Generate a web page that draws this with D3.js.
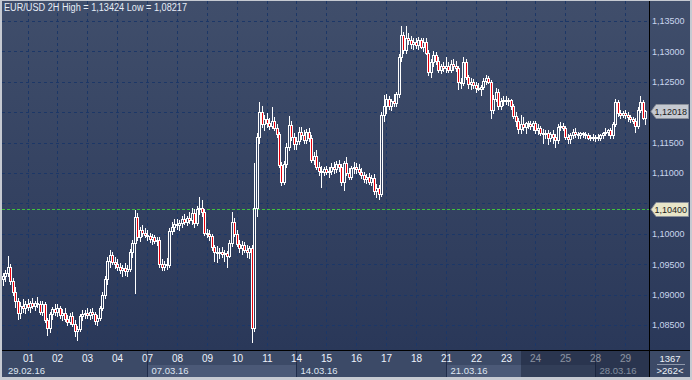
<!DOCTYPE html>
<html>
<head>
<meta charset="utf-8">
<script src="https://cdn.jsdelivr.net/npm/d3@7"></script>
<style>
  body { margin: 0; background: #c6cad2; }
  svg { display: block; font-family: "Liberation Sans", Arial, sans-serif; }
</style>
</head>
<body>
<div id="chart"></div>
<script>
// EUR/USD 2H candles, one line per trading day (29.02 .. 29.03.16)
var days = ["29","01","02","03","04","07","08","09","10","11","14","15","16","17","18","21","22","23","24","25","28","29"];
var barsPerDay = [10,12,12,12,12,12,12,12,12,12,12,12,12,12,12,12,12,12,12,12,12,9];
var weekLabels = ["29.02.16","07.03.16","14.03.16","21.03.16","28.03.16"];
var weekFirstDay = [0,5,10,15,20];

var open = [
  1.0925,1.0930,1.0935,1.0945,1.0922,1.0905,1.0890,1.0870,1.0882,1.0878,
  1.0885,1.0880,1.0886,1.0882,1.0887,1.0884,1.0872,1.0885,1.0858,1.0845,1.0868,1.0876,
  1.0872,1.0878,1.0866,1.0870,1.0860,1.0855,1.0864,1.0852,1.0840,1.0844,1.0864,1.0868,
  1.0870,1.0866,1.0872,1.0868,1.0856,1.0862,1.0878,1.0900,1.0925,1.0955,1.0965,1.0954,
  1.0950,1.0945,1.0940,1.0944,1.0938,1.0942,1.0970,1.0985,1.1028,1.0995,1.1006,1.1002,
  1.0998,1.0996,1.0992,1.0994,1.0988,1.0990,1.0950,1.0946,1.0950,1.0948,1.1005,1.1012,
  1.1016,1.1014,1.1018,1.1024,1.1020,1.1026,1.1022,1.1034,1.1018,1.1040,1.1042,1.1036,
  1.1002,1.1000,1.0996,1.0978,1.0970,1.0968,1.0970,1.0966,1.0968,1.0964,1.0985,1.1019,
  1.0999,1.0984,1.0976,1.0982,1.0974,1.0970,1.0976,1.0845,1.1042,1.1159,1.1200,1.1180,
  1.1188,1.1182,1.1178,1.1186,1.1174,1.1164,1.1113,1.1085,1.1115,1.1143,1.1179,1.1159,
  1.1148,1.1152,1.1168,1.1162,1.1155,1.1168,1.1158,1.1122,1.1128,1.1110,1.1104,1.1102,
  1.1106,1.1102,1.1104,1.1110,1.1106,1.1114,1.1110,1.1085,1.1116,1.1100,1.1094,1.1108,
  1.1110,1.1106,1.1102,1.1096,1.1090,1.1094,1.1086,1.1092,1.1070,1.1076,1.1066,1.1196,
  1.1210,1.1222,1.1210,1.1218,1.1215,1.1230,1.1291,1.1327,1.1302,1.1322,1.1318,1.1312,
  1.1316,1.1310,1.1318,1.1308,1.1316,1.1298,1.1266,1.1282,1.1294,1.1285,1.1270,1.1276,
  1.1272,1.1276,1.1270,1.1280,1.1276,1.1272,1.1250,1.1248,1.1283,1.1258,1.1246,1.1250,
  1.1244,1.1240,1.1238,1.1242,1.1252,1.1256,1.1250,1.1204,1.1222,1.1234,1.1210,1.1218,
  1.1220,1.1218,1.1220,1.1210,1.1194,1.1186,1.1172,1.1180,1.1176,1.1182,1.1180,1.1178,
  1.1182,1.1170,1.1174,1.1166,1.1164,1.1166,1.1158,1.1164,1.1160,1.1154,1.1176,1.1178,
  1.1174,1.1160,1.1156,1.1162,1.1168,1.1164,1.1163,1.1165,1.1164,1.1162,1.1158,1.1160,
  1.1158,1.1160,1.1158,1.1162,1.1166,1.1168,1.1170,1.1162,1.1180,1.1216,1.1198,1.1196,
  1.1199,1.1196,1.1192,1.1188,1.1186,1.1178,1.1204,1.1216,1.1190
];
var high = [
  1.0935,1.0940,1.0964,1.0950,1.0928,1.0912,1.0895,1.0888,1.0892,1.0890,
  1.0892,1.0890,1.0895,1.0890,1.0896,1.0890,1.0890,1.0888,1.0862,1.0872,1.0880,1.0884,
  1.0885,1.0882,1.0876,1.0878,1.0866,1.0870,1.0872,1.0858,1.0848,1.0868,1.0874,1.0875,
  1.0878,1.0876,1.0878,1.0872,1.0866,1.0882,1.0905,1.0930,1.0962,1.0973,1.0970,1.0962,
  1.0958,1.0952,1.0948,1.0952,1.0948,1.0975,1.0990,1.1039,1.1035,1.1012,1.1014,1.1010,
  1.1006,1.1002,1.1000,1.0998,1.0995,1.0994,1.0958,1.0955,1.0960,1.1010,1.1020,1.1024,
  1.1024,1.1022,1.1030,1.1032,1.1030,1.1036,1.1042,1.1040,1.1045,1.1060,1.1056,1.1040,
  1.1008,1.1006,1.1000,1.0982,1.0980,1.0976,1.0978,1.0974,1.0972,1.0990,1.1036,1.1026,
  1.1006,1.0990,1.0988,1.0986,1.0982,1.0980,1.0982,1.1116,1.1165,1.1217,1.1210,1.1195,
  1.1198,1.1190,1.1209,1.1192,1.1180,1.1168,1.1118,1.1120,1.1150,1.1194,1.1186,1.1165,
  1.1160,1.1176,1.1175,1.1170,1.1172,1.1174,1.1162,1.1135,1.1138,1.1118,1.1112,1.1110,
  1.1112,1.1110,1.1116,1.1118,1.1120,1.1122,1.1115,1.1120,1.1126,1.1108,1.1112,1.1118,
  1.1116,1.1114,1.1108,1.1102,1.1098,1.1100,1.1096,1.1098,1.1082,1.1080,1.1200,1.1228,
  1.1230,1.1226,1.1222,1.1230,1.1234,1.1295,1.1342,1.1332,1.13424,1.1330,1.1325,1.1322,
  1.1322,1.1324,1.1322,1.1322,1.1322,1.1302,1.1288,1.1300,1.1299,1.1290,1.1280,1.1282,
  1.1290,1.1282,1.1286,1.1288,1.1284,1.1276,1.1256,1.1290,1.1288,1.1262,1.1256,1.1254,
  1.1250,1.1248,1.1244,1.1256,1.1261,1.1259,1.1253,1.1228,1.1240,1.1238,1.1224,1.1226,
  1.1226,1.1224,1.1222,1.1214,1.1200,1.1190,1.1195,1.1192,1.1184,1.1186,1.1186,1.1185,
  1.1186,1.1180,1.1178,1.1172,1.1170,1.1170,1.1168,1.1170,1.1164,1.1180,1.1184,1.1182,
  1.1178,1.1164,1.1166,1.1172,1.1174,1.1168,1.1168,1.1168,1.1167,1.1166,1.1162,1.1164,
  1.1162,1.1164,1.1164,1.1168,1.1174,1.1172,1.1174,1.1184,1.1222,1.1220,1.1204,1.1202,
  1.1204,1.1200,1.1196,1.1192,1.1190,1.1208,1.1227,1.1220,1.1204
];
var low = [
  1.0915,1.0922,1.0930,1.0918,1.0900,1.0880,1.0860,1.0862,1.0872,1.0870,
  1.0874,1.0872,1.0878,1.0875,1.0880,1.0868,1.0866,1.0855,1.0834,1.0838,1.0860,1.0866,
  1.0865,1.0862,1.0858,1.0856,1.0850,1.0852,1.0848,1.0832,1.0826,1.0840,1.0858,1.0862,
  1.0862,1.0860,1.0862,1.0852,1.0850,1.0858,1.0874,1.0895,1.0918,1.0946,1.0950,1.0944,
  1.0940,1.0936,1.0930,1.0932,1.0930,1.0938,1.0962,1.0902,1.0990,1.0988,1.0996,1.0994,
  1.0990,1.0986,1.0984,1.0985,1.0982,1.0945,1.0940,1.0940,1.0942,1.0945,1.1000,1.1004,
  1.1008,1.1006,1.1012,1.1016,1.1014,1.1018,1.1016,1.1012,1.1014,1.1032,1.1030,1.0998,
  1.0994,1.0990,1.0974,1.0956,1.0954,1.0960,1.0962,1.0956,1.0946,1.0962,1.0980,1.0996,
  1.0980,1.0970,1.0966,1.0970,1.0962,1.0960,1.08217,1.0840,1.1030,1.1150,1.1175,1.1170,
  1.1176,1.1172,1.1174,1.1170,1.1160,1.1110,1.1080,1.1082,1.1110,1.1138,1.1155,1.1140,
  1.1140,1.1148,1.1156,1.1150,1.1150,1.1152,1.1118,1.1115,1.1106,1.1096,1.1077,1.1096,
  1.1098,1.1094,1.1098,1.1100,1.1102,1.1104,1.1080,1.1072,1.1096,1.1090,1.1090,1.1100,
  1.1100,1.1098,1.1092,1.1086,1.1084,1.1082,1.1080,1.1066,1.1060,1.1058,1.1062,1.1186,
  1.1198,1.1205,1.1204,1.1210,1.1210,1.1225,1.1285,1.1298,1.1298,1.1312,1.1306,1.1304,
  1.1306,1.1304,1.1305,1.1300,1.1296,1.1262,1.1258,1.1276,1.1280,1.1266,1.1264,1.1268,
  1.1266,1.1266,1.1266,1.1270,1.1268,1.1238,1.1240,1.1244,1.1255,1.1240,1.1238,1.1240,
  1.1234,1.1236,1.1228,1.1238,1.1246,1.1248,1.1190,1.1198,1.1218,1.1206,1.1206,1.1212,
  1.1214,1.1212,1.1206,1.1190,1.1178,1.1166,1.1166,1.1170,1.1166,1.1174,1.1172,1.1170,
  1.1166,1.1164,1.1162,1.1150,1.1158,1.1148,1.1152,1.1150,1.1143,1.1150,1.1170,1.1170,
  1.1156,1.1150,1.1150,1.1158,1.1160,1.1158,1.1158,1.1160,1.1158,1.1156,1.1154,1.1155,
  1.1152,1.1154,1.1154,1.1158,1.1162,1.1162,1.1158,1.1158,1.1178,1.1194,1.1190,1.1192,
  1.1190,1.1186,1.1184,1.1182,1.1167,1.1174,1.1200,1.1188,1.1180
];
var close = [
  1.0930,1.0935,1.0945,1.0922,1.0905,1.0890,1.0870,1.0882,1.0878,1.0885,
  1.0880,1.0886,1.0882,1.0887,1.0884,1.0872,1.0885,1.0858,1.0845,1.0868,1.0876,1.0872,
  1.0878,1.0866,1.0870,1.0860,1.0855,1.0864,1.0852,1.0840,1.0844,1.0864,1.0868,1.0870,
  1.0866,1.0872,1.0868,1.0856,1.0862,1.0878,1.0900,1.0925,1.0955,1.0965,1.0954,1.0950,
  1.0945,1.0940,1.0944,1.0938,1.0942,1.0970,1.0985,1.1028,1.0995,1.1006,1.1002,1.0998,
  1.0996,1.0992,1.0994,1.0988,1.0990,1.0950,1.0946,1.0950,1.0948,1.1005,1.1012,1.1016,
  1.1014,1.1018,1.1024,1.1020,1.1026,1.1022,1.1034,1.1018,1.1040,1.1042,1.1036,1.1002,
  1.1000,1.0996,1.0978,1.0970,1.0968,1.0970,1.0966,1.0968,1.0964,1.0985,1.1019,1.0999,
  1.0984,1.0976,1.0982,1.0974,1.0970,1.0976,1.0845,1.1042,1.1159,1.1200,1.1180,1.1188,
  1.1182,1.1178,1.1186,1.1174,1.1164,1.1113,1.1085,1.1115,1.1143,1.1179,1.1159,1.1148,
  1.1152,1.1168,1.1162,1.1155,1.1168,1.1158,1.1122,1.1128,1.1110,1.1104,1.1102,1.1106,
  1.1102,1.1104,1.1110,1.1106,1.1114,1.1110,1.1085,1.1116,1.1100,1.1094,1.1108,1.1110,
  1.1106,1.1102,1.1096,1.1090,1.1094,1.1086,1.1092,1.1070,1.1076,1.1066,1.1196,1.1210,
  1.1222,1.1210,1.1218,1.1215,1.1230,1.1291,1.1327,1.1302,1.1322,1.1318,1.1312,1.1316,
  1.1310,1.1318,1.1308,1.1316,1.1298,1.1266,1.1282,1.1294,1.1285,1.1270,1.1276,1.1272,
  1.1276,1.1270,1.1280,1.1276,1.1272,1.1250,1.1248,1.1283,1.1258,1.1246,1.1250,1.1244,
  1.1240,1.1238,1.1242,1.1252,1.1256,1.1250,1.1204,1.1222,1.1234,1.1210,1.1218,1.1220,
  1.1218,1.1220,1.1210,1.1194,1.1186,1.1172,1.1180,1.1176,1.1182,1.1180,1.1178,1.1182,
  1.1170,1.1174,1.1166,1.1164,1.1166,1.1158,1.1164,1.1160,1.1154,1.1176,1.1178,1.1174,
  1.1160,1.1156,1.1162,1.1168,1.1164,1.1163,1.1165,1.1164,1.1162,1.1158,1.1160,1.1158,
  1.1160,1.1158,1.1162,1.1166,1.1168,1.1170,1.1162,1.1180,1.1216,1.1198,1.1196,1.1199,
  1.1196,1.1192,1.1188,1.1186,1.1178,1.1204,1.1216,1.1190,1.12018
];
var priceTicks = [1.085,1.09,1.095,1.1,1.105,1.11,1.115,1.12,1.125,1.13,1.135];
var refLevel = 1.104;
var barCount = 1367;
var barsShown = 262;

var W = 692, H = 380;
var padL = 2, padT = 1, plotRight = 649, plotBottom = 350, axisBottom = 377, padR = 690;
var step = 2.49;

var candles = close.map(function(c, i) {
  return {i: i, o: open[i], h: high[i], l: low[i], c: c};
});

// first bar index of every day
var dayStart = [];
var acc = 0;
barsPerDay.forEach(function(n) { dayStart.push(acc); acc += n; });

var x = d3.scaleLinear().domain([0, candles.length]).range([padL + 0.6, padL + 0.6 + step * candles.length]);
var y = d3.scaleLinear().domain([1.085, 1.135]).range([325, 21]);
var fmt = function(v) { return d3.format(".5f")(v).replace(".", ","); };
var lastPrice = close[close.length - 1];

var svg = d3.select("#chart").append("svg").attr("width", W).attr("height", H);
var defs = svg.append("defs");
var g1 = defs.append("linearGradient").attr("id", "bg").attr("x1", 0).attr("y1", 0).attr("x2", 0).attr("y2", 1);
g1.append("stop").attr("offset", "0%").attr("stop-color", "#404e6b");
g1.append("stop").attr("offset", "100%").attr("stop-color", "#2a3859");

// panels
svg.append("rect").attr("x", padL).attr("y", padT).attr("width", padR - padL).attr("height", plotBottom - padT)
  .attr("fill", "url(#bg)");
svg.append("rect").attr("x", padL).attr("y", plotBottom).attr("width", padR - padL).attr("height", axisBottom - plotBottom)
  .attr("fill", "#3c4a67");

// grid
var grid = svg.append("g").attr("stroke", "#1c3767").attr("stroke-dasharray", "3,3").attr("stroke-width", 1);
grid.selectAll("line.h").data(priceTicks).enter().append("line")
  .attr("x1", padL).attr("x2", plotRight)
  .attr("y1", function(d) { return Math.round(y(d)) + 0.5; })
  .attr("y2", function(d) { return Math.round(y(d)) + 0.5; });
grid.selectAll("line.v").data(dayStart.slice(1)).enter().append("line")
  .attr("y1", padT).attr("y2", plotBottom)
  .attr("x1", function(d) { return Math.round(x(d)) + 0.5; })
  .attr("x2", function(d) { return Math.round(x(d)) + 0.5; });

// reference level
svg.append("line").attr("x1", padL).attr("x2", plotRight)
  .attr("y1", Math.round(y(refLevel)) + 0.5).attr("y2", Math.round(y(refLevel)) + 0.5)
  .attr("stroke", "#3fc23f").attr("stroke-dasharray", "3,2");

// candles
var cg = svg.append("g");
candles.forEach(function(d) {
  var cx = Math.round(x(d.i));
  var t = Math.round(y(Math.max(d.o, d.c)));
  var b = Math.round(y(Math.min(d.o, d.c)));
  if (b - t < 1) b = t + 1;
  cg.append("line").attr("x1", cx + 0.5).attr("x2", cx + 0.5)
    .attr("y1", Math.round(y(d.h))).attr("y2", t).attr("stroke", "#fff");
  cg.append("line").attr("x1", cx + 0.5).attr("x2", cx + 0.5)
    .attr("y1", b).attr("y2", Math.round(y(d.l)) + 1).attr("stroke", "#fff");
  cg.append("rect").attr("x", cx - 0.5).attr("y", t + 0.5).attr("width", 2).attr("height", b - t)
    .attr("fill", d.c < d.o ? "#e8000b" : "none").attr("stroke", "#fff").attr("stroke-width", 1);
});

// title
var hi = d3.max(high), lo = d3.min(low);
svg.append("text").attr("x", 4).attr("y", 11).attr("font-size", 10).attr("fill", "#e6ecf6")
  .attr("textLength", 183).attr("lengthAdjust", "spacingAndGlyphs")
  .text("EUR/USD 2H High = " + fmt(hi) + " Low = " + fmt(lo));

// separators
svg.append("line").attr("x1", plotRight + 0.5).attr("x2", plotRight + 0.5).attr("y1", padT).attr("y2", axisBottom)
  .attr("stroke", "#000");
svg.append("line").attr("x1", padL).attr("x2", padR).attr("y1", plotBottom + 0.5).attr("y2", plotBottom + 0.5)
  .attr("stroke", "#000");

// price axis (labels hidden behind the markers are left out)
var shownTicks = priceTicks.filter(function(v) {
  return Math.abs(y(v) - y(lastPrice)) > 9 && Math.abs(y(v) - y(refLevel)) > 9;
});
var yAxis = svg.append("g").attr("transform", "translate(" + (plotRight + 1) + ",0)")
  .call(d3.axisRight(y).tickValues(shownTicks).tickSize(0).tickPadding(2).tickFormat(fmt));
yAxis.select(".domain").remove();
yAxis.selectAll("text").attr("fill", "#c9d6ee").attr("font-size", 9).attr("font-family", "Liberation Sans, Arial, sans-serif");

function marker(v, fill) {
  var yc = Math.round(y(v));
  var m = svg.append("g");
  m.append("path")
    .attr("d", "M" + (plotRight + 2) + "," + (yc + 0.5) + "L" + (plotRight + 7) + "," + (yc - 6.5) +
      "L" + (padR - 1.5) + "," + (yc - 6.5) + "L" + (padR - 1.5) + "," + (yc + 7.5) + "L" + (plotRight + 7) + "," + (yc + 7.5) + "Z")
    .attr("fill", fill).attr("stroke", "#8a909b");
  m.append("text").attr("x", plotRight + 5.5).attr("y", yc + 4).attr("font-size", 9).attr("fill", "#1b1b1b")
    .text(fmt(v));
}
marker(refLevel, "#e8e5c8");
marker(lastPrice, "#c5c9d1");

// time axis
var weekStartBar = weekFirstDay.map(function(k) { return dayStart[k]; });
var weekEdges = weekStartBar.map(function(s, k) {
  return {k: k, x0: k === 0 ? padL : Math.round(x(s)) + 0.5,
          x1: k < weekStartBar.length - 1 ? Math.round(x(weekStartBar[k + 1])) + 0.5 : plotRight};
});
var ax = svg.append("g");
ax.selectAll("rect.wk").data(weekEdges.filter(function(d) { return d.k % 2 === 1; })).enter().append("rect")
  .attr("x", function(d) { return d.x0; }).attr("y", 365)
  .attr("width", function(d) { return d.x1 - d.x0; }).attr("height", axisBottom - 365)
  .attr("fill", "#4b5977");
ax.selectAll("line.wk").data(weekEdges.slice(1)).enter().append("line")
  .attr("x1", function(d) { return d.x0; }).attr("x2", function(d) { return d.x0; })
  .attr("y1", plotBottom + 1).attr("y2", axisBottom).attr("stroke", "#1f2c4a");
ax.selectAll("text.day").data(days.slice(1)).enter().append("text")
  .attr("x", function(d, k) { return Math.round(x(dayStart[k + 1])) + 0.5; })
  .attr("y", 362).attr("text-anchor", "middle").attr("font-size", 10).attr("fill", "#eef3fb")
  .text(function(d) { return d; });
ax.selectAll("text.week").data(weekEdges).enter().append("text")
  .attr("x", function(d) { return d.k === 0 ? 8 : d.x0 + 4; })
  .attr("y", 374).attr("font-size", 9.5).attr("fill", "#dfe6f2")
  .text(function(d) { return weekLabels[d.k]; });

// dimmed tail of the time axis
var dimX = Math.round(x(dayStart[18])) - 14;
svg.append("rect").attr("x", dimX).attr("y", plotBottom + 1)
  .attr("width", plotRight - dimX).attr("height", axisBottom - plotBottom - 1)
  .attr("fill", "#141c34").attr("opacity", 0.45);

// corner box
svg.append("text").attr("x", 670).attr("y", 362).attr("text-anchor", "middle").attr("font-size", 9.5)
  .attr("fill", "#eef2f8").text(barCount);
svg.append("line").attr("x1", 657).attr("x2", 685).attr("y1", 364.5).attr("y2", 364.5).attr("stroke", "#8e97aa");
svg.append("text").attr("x", 670).attr("y", 374).attr("text-anchor", "middle").attr("font-size", 9.5)
  .attr("fill", "#eef2f8").text(">" + barsShown + "<");
</script>
</body>
</html>
